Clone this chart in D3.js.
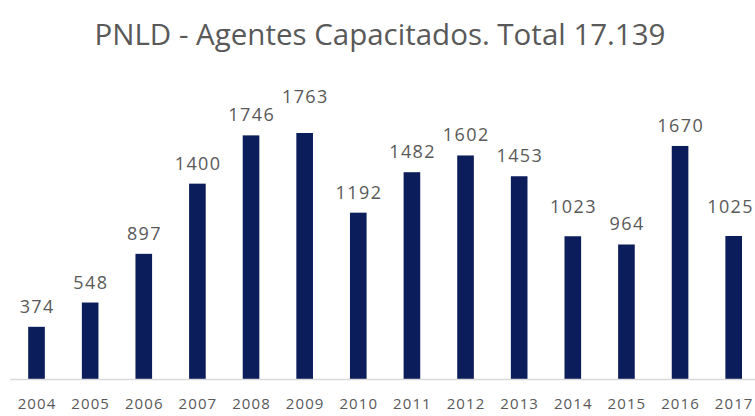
<!DOCTYPE html>
<html>
<head>
<meta charset="utf-8">
<script src="https://cdn.jsdelivr.net/npm/d3@7"></script>
<style>
  html, body { margin: 0; padding: 0; background: #fff; }
  svg { display: block; font-family: "Open Sans", sans-serif; }
</style>
</head>
<body>
<svg></svg>
<script>
const years = ["2004", "2005", "2006", "2007", "2008", "2009", "2010", "2011", "2012", "2013", "2014", "2015", "2016", "2017"];
const agentes = [374, 548, 897, 1400, 1746, 1763, 1192, 1482, 1602, 1453, 1023, 964, 1670, 1025];
const titulo = "PNLD - Agentes Capacitados. Total 17.139";

// a few labels sit higher in the original
const labelNudge = { "2009": 16, "2014": 9, "2017": 9 };

const svg = d3.select("svg");
const size = { width: 755, height: 416 };
svg.attr("width", size.width).attr("height", size.height);

const x = d3.scaleBand().domain(years).range([9.7, 760.5]).paddingInner(0.69).paddingOuter(0.345);
const y = d3.scaleLinear().domain([0, 1763]).range([379, 133]);

svg.append("text")
  .attr("x", 380).attr("y", 45)
  .attr("text-anchor", "middle")
  .attr("font-size", 29.5)
  .attr("fill", "#595959")
  .text(titulo);

svg.selectAll("rect.bar").data(agentes).enter().append("rect")
  .attr("class", "bar")
  .attr("x", (d, i) => x(years[i]))
  .attr("width", x.bandwidth())
  .attr("y", d => y(d))
  .attr("height", d => y(0) - y(d))
  .attr("fill", "#0c1d5b");

const vals = svg.selectAll("text.val").data(agentes).enter().append("text")
  .attr("class", "val")
  .attr("x", (d, i) => x(years[i]) + x.bandwidth() / 2 + 0.7)
  .attr("y", (d, i) => y(d) - 14 - (labelNudge[years[i]] || 0))
  .attr("text-anchor", "middle")
  .attr("font-size", 18)
  .attr("letter-spacing", 1.4)
  .attr("fill", "#595959")
  .text(d => d);

// keep the last label inside the frame
vals.each(function () {
  const b = this.getBBox();
  const over = b.x + b.width - (size.width - 1);
  if (over > 0) d3.select(this).attr("x", +this.getAttribute("x") - over);
});

const axis = svg.append("g")
  .attr("transform", `translate(0, ${y(0)})`)
  .call(d3.axisBottom(x).tickSize(0).tickPadding(19));
axis.select(".domain").attr("stroke", "#d9d9d9").attr("stroke-width", 1.5);
axis.selectAll("text")
  .attr("font-family", "Open Sans, sans-serif")
  .attr("font-size", 15)
  .attr("letter-spacing", 1.1)
  .attr("dx", 0.5)
  .attr("fill", "#595959");
</script>
</body>
</html>
